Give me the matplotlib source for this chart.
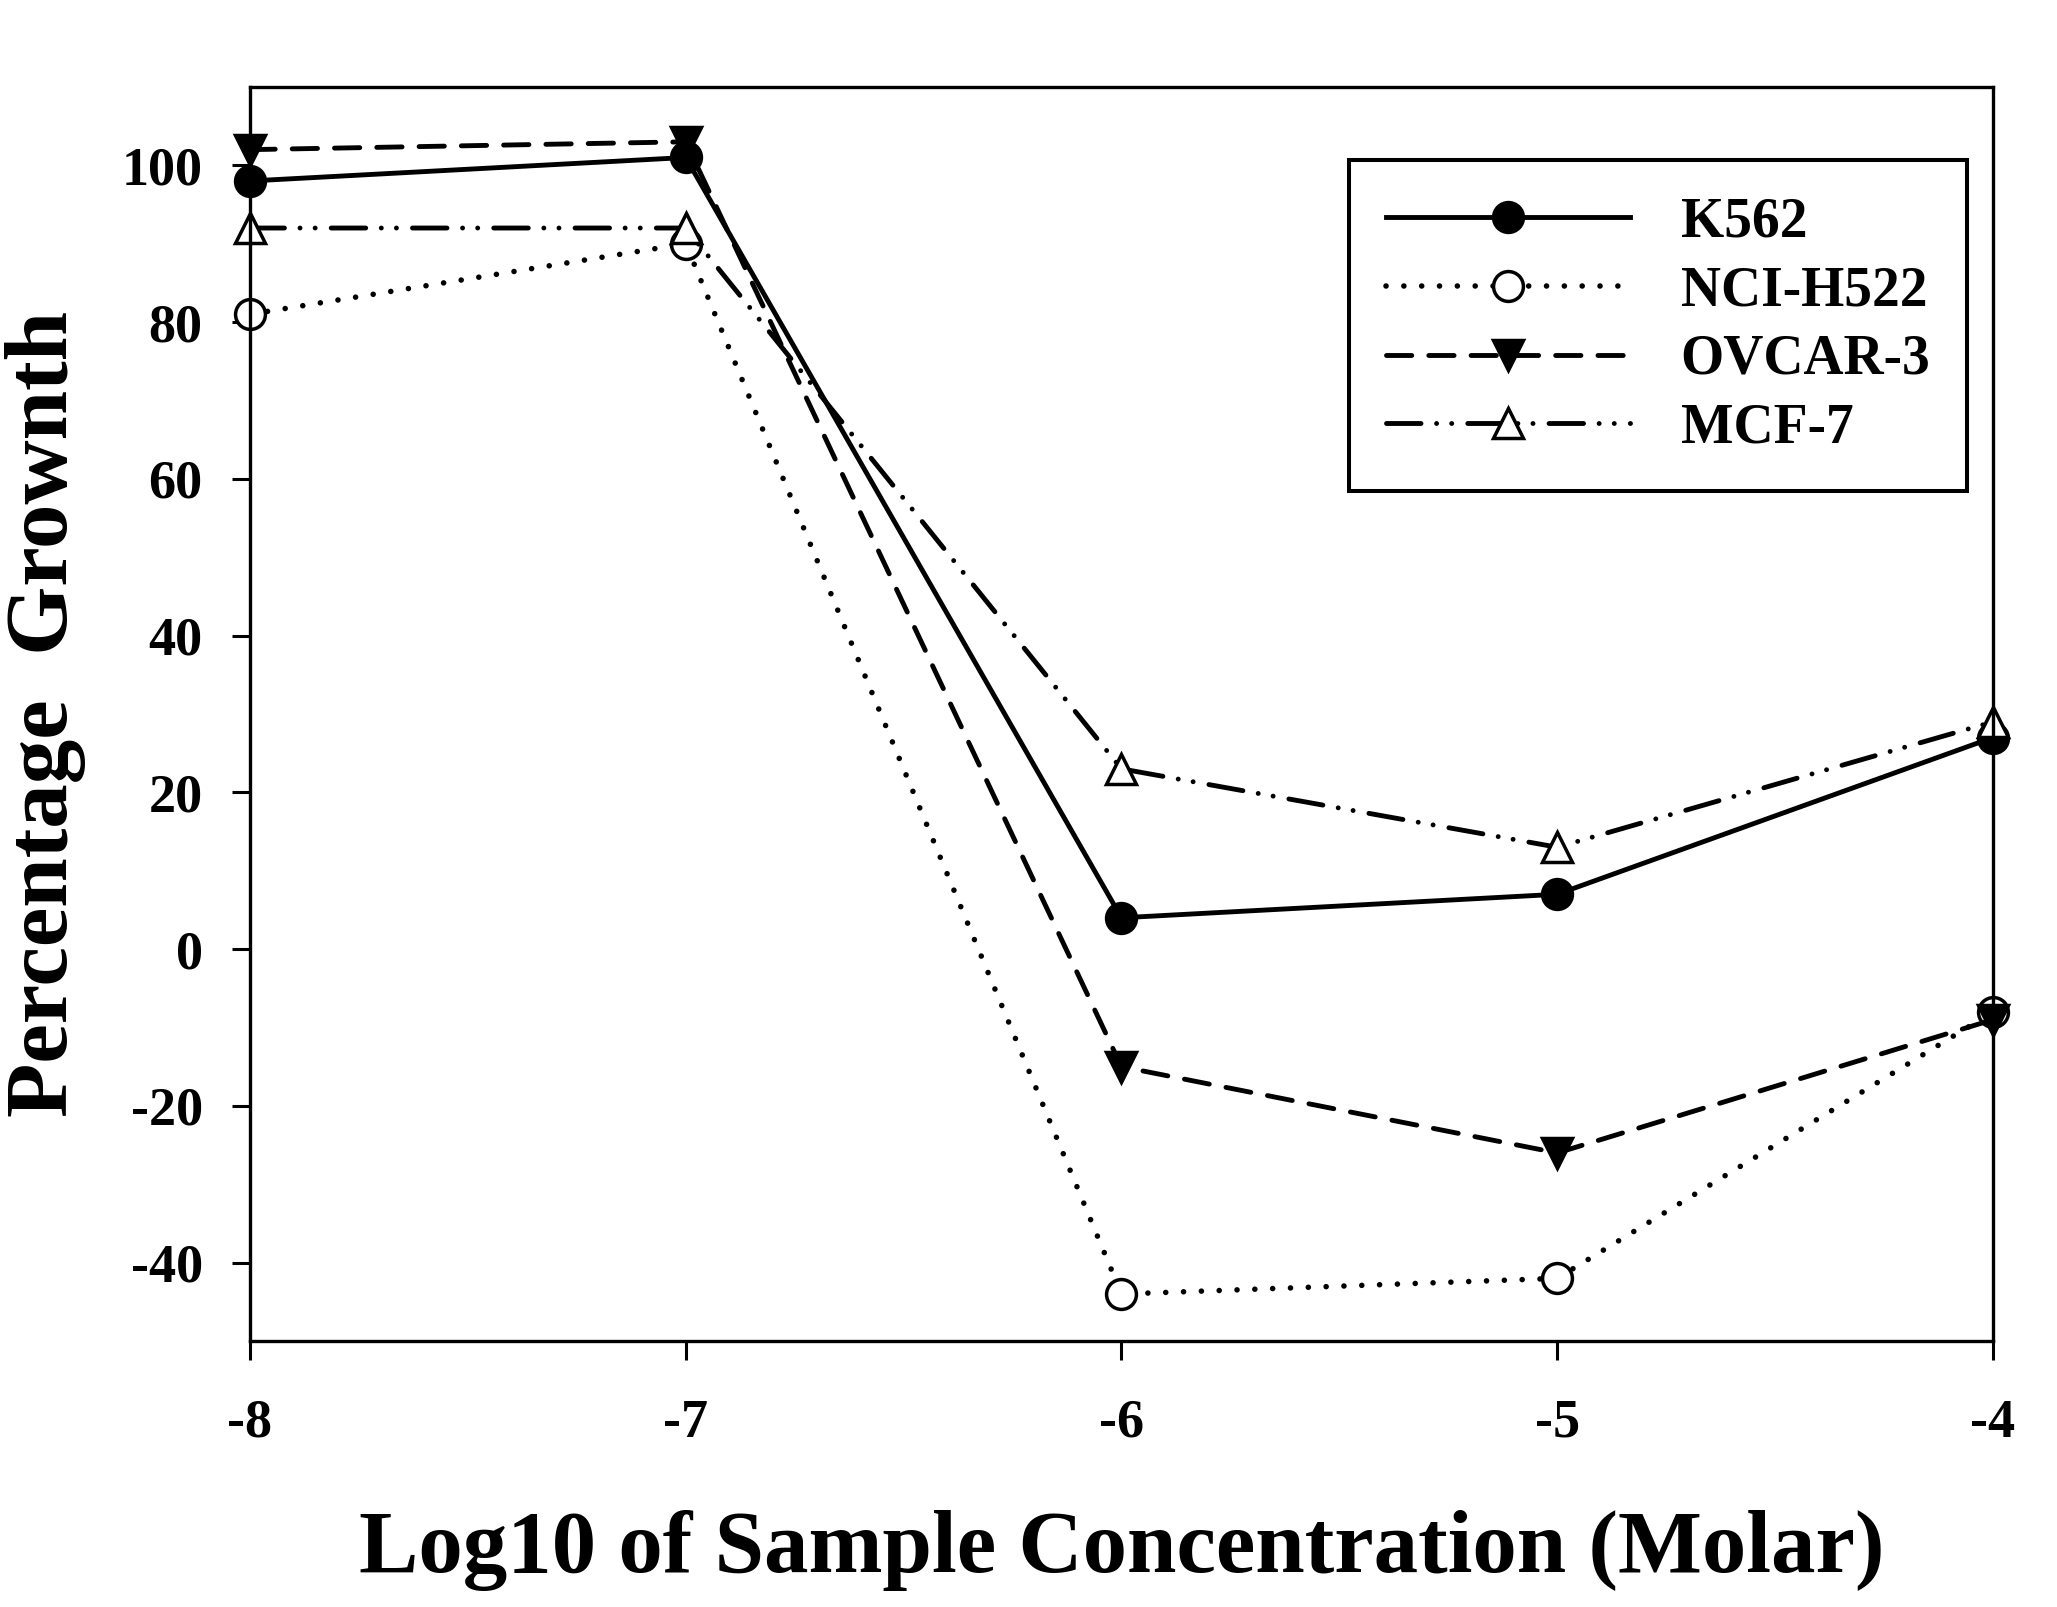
import matplotlib
matplotlib.use('Agg')
import matplotlib.pyplot as plt

plt.rcParams['font.family'] = ['Liberation Serif', 'DejaVu Serif']
plt.rcParams['font.weight'] = 'bold'
plt.rcParams['axes.unicode_minus'] = False

conc = [-8, -7, -6, -5, -4]
k562 = [98, 101, 4, 7, 27]
nci_h522 = [81, 90, -44, -42, -8]
ovcar3 = [102, 103, -15, -26, -9]
mcf7 = [92, 92, 23, 13, 29]

yticks = [-40, -20, 0, 20, 40, 60, 80, 100]

fig = plt.figure(figsize=(20.57, 16.07), dpi=100)
ax = fig.add_axes([0.1215, 0.1655, 0.8474, 0.7804])

lw = 3.5
ms = 21.5
mew = 2.5

ax.plot(conc, k562, color='black', lw=lw, linestyle='-', marker='o', ms=ms,
        mfc='black', mec='black', mew=mew, label='K562', clip_on=False)
ax.plot(conc, nci_h522, color='black', lw=4, linestyle=(0, (0.01, 3.2)),
        dash_capstyle='round', marker='o', ms=ms, mfc='white', mec='black',
        mew=mew, label='NCI-H522', clip_on=False)
ax.plot(conc, ovcar3, color='black', lw=lw, linestyle=(0, (5.2, 3.5)),
        dash_capstyle='round', marker='v', ms=ms, mfc='black', mec='black',
        mew=mew, label='OVCAR-3', clip_on=False)
ax.plot(conc, mcf7, color='black', lw=lw, linestyle=(0, (7.1, 3.2, 0.01, 3.1, 0.01, 3.3)),
        dash_capstyle='round', marker='^', ms=ms, mfc='white', mec='black',
        mew=mew, label='MCF-7', clip_on=False)

ax.set_xlim(-8, -4)
ax.set_ylim(-50, 110)
ax.set_xticks(conc)
ax.set_yticks(yticks)

for s in ax.spines.values():
    s.set_linewidth(2.4)

ax.tick_params(axis='x', direction='out', length=13.7, width=2.2, pad=28, labelsize=39)
ax.tick_params(axis='y', direction='out', length=13, width=2.2, pad=21, labelsize=39)

ax.set_xlabel('Log10 of Sample Concentration (Molar)', fontsize=64, fontweight='bold')
ax.set_ylabel('Percentage  Grownth', fontsize=64, fontweight='bold')
ax.xaxis.set_label_coords(0.5, -0.135)
ax.yaxis.set_label_coords(-0.094, 0.5)

leg = ax.legend(loc='upper left', bbox_to_anchor=(1349/2057, 1 - 160/1607),
                bbox_transform=fig.transFigure, borderaxespad=0,
                fontsize=40, numpoints=1, handlelength=4.39, handletextpad=0.92,
                borderpad=0.66, labelspacing=0.3, fancybox=False,
                framealpha=1, edgecolor='black')
leg.get_frame().set_linewidth(2.9)
for t in leg.get_texts():
    t.set_fontweight('bold')

fig.savefig('out.png', dpi=100, facecolor='white')
